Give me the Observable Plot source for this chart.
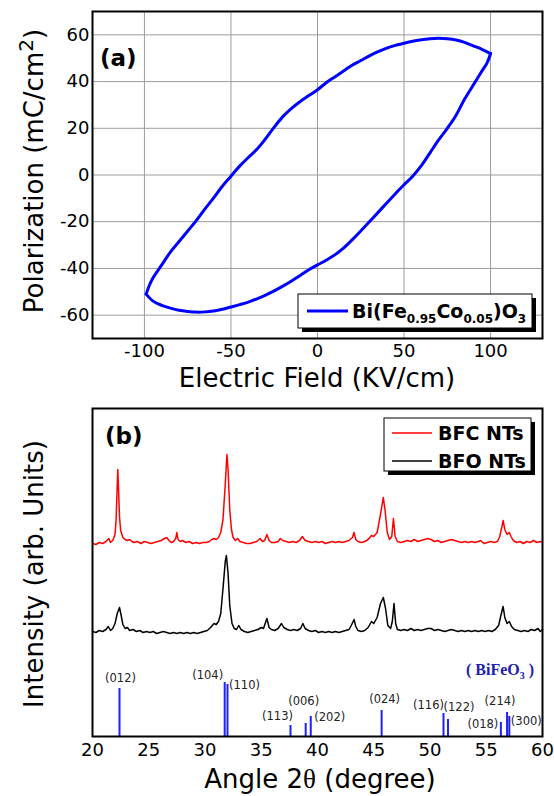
<!DOCTYPE html>
<html><head><meta charset="utf-8">
<script src="https://cdn.jsdelivr.net/npm/d3@7"></script>
<script src="https://cdn.jsdelivr.net/npm/@observablehq/plot@0.6"></script>
<style>
html,body{margin:0;padding:0;background:#fff;}
#chart{width:554px;}
#chart svg{display:block;}
</style></head>
<body><div id="chart"></div>
<script>
// ---------- (a) P-E hysteresis loop ----------
const fieldTicks = [-100, -50, 0, 50, 100];
const polTicks = [-60, -40, -20, 0, 20, 40, 60];
const loopName = "Bi(Fe0.95Co0.05)O3";
// upper branch (field increasing)
const upperE = [-99,-97,-95,-90,-85,-80,-75,-70,-65,-60,-55,-50,-45,-40,-35,-30,-25,-20,-15,-10,-5,0,5,10,15,20,25,30,35,40,45,50,55,60,65,70,75,80,85,90,95,100];
const upperP = [-51,-47,-44,-38.5,-33,-28.5,-24,-19.5,-14.5,-9.8,-4.8,-0.5,3.8,7.5,11,15.5,20.5,25,28.5,31.5,34,36.5,39.5,42,44.5,47,49,51,52.8,54.3,55.5,56.4,57.3,57.9,58.3,58.5,58.3,57.8,56.8,55.3,53.8,52];
// lower branch (field decreasing)
const lowerE = [100,98,95,90,85,80,75,70,65,60,55,50,45,40,35,30,25,20,15,10,5,0,-5,-10,-15,-20,-25,-30,-35,-40,-45,-50,-55,-60,-65,-70,-75,-80,-85,-90,-95,-99];
const lowerP = [52,48,44.5,38.5,32.5,25.5,20,15,9.5,4,-0.5,-4.2,-8,-12,-16,-20,-24,-27.8,-31.3,-34.2,-36.5,-38.5,-40.6,-43,-45.4,-47.6,-49.6,-51.4,-53,-54.4,-55.5,-56.5,-57.5,-58.2,-58.6,-58.7,-58.4,-57.9,-57,-55.8,-54,-51];

// ---------- (b) XRD patterns ----------
const angleTicks = [20, 25, 30, 35, 40, 45, 50, 55, 60];
const seriesNames = ["BFC NTs", "BFO NTs"];
const bfcOffset = 192;
const bfoOffset = 103;
const bfcAngle = [20.0,20.3,20.6,20.9,21.2,21.45,21.6,21.8,22.0,22.1,22.2,22.25,22.3,22.4,22.5,22.7,22.9,23.1,23.3,23.5,23.7,24.0,24.3,24.6,24.9,25.2,25.5,25.8,26.1,26.4,26.6,26.8,27.0,27.2,27.4,27.5,27.6,27.8,28.0,28.3,28.6,28.9,29.2,29.5,29.8,30.1,30.4,30.6,30.8,31.0,31.2,31.4,31.6,31.8,31.95,32.05,32.2,32.35,32.5,32.7,32.9,33.1,33.4,33.7,34.0,34.3,34.6,34.9,35.1,35.3,35.5,35.7,35.9,36.2,36.5,36.7,36.9,37.2,37.5,37.8,38.1,38.4,38.65,38.9,39.2,39.5,39.8,40.1,40.4,40.7,41.0,41.3,41.6,41.9,42.2,42.5,42.8,43.1,43.25,43.4,43.6,43.9,44.2,44.5,44.8,45.0,45.3,45.6,45.85,46.0,46.2,46.4,46.6,46.75,46.9,47.1,47.4,47.7,48.0,48.3,48.6,48.9,49.2,49.5,49.8,50.1,50.4,50.7,51.0,51.3,51.6,51.9,52.2,52.5,52.8,53.1,53.4,53.7,54.0,54.3,54.5,54.8,55.1,55.4,55.7,56.0,56.2,56.4,56.5,56.65,56.85,57.05,57.2,57.4,57.7,58.0,58.3,58.6,58.9,59.2,59.5,59.8,60.0];
const bfcIntensity = [1,0,2,1,3,6,2,4,10,25,60,75,60,28,14,7,5,4,5,3,2,3,1,3,2,1,2,3,4,6,7,4,2,3,6,12,5,3,4,2,3,1,2,1,2,2,3,5,6,5,7,12,25,60,90,75,35,15,7,4,6,3,2,1,1,2,3,6,3,4,10,4,2,2,3,6,4,3,2,3,2,4,8,4,3,2,3,2,3,1,2,3,2,3,2,3,4,7,12,5,3,2,3,5,9,8,12,30,47,35,12,5,8,26,8,3,2,3,4,3,5,3,4,5,6,5,3,4,2,3,4,5,4,3,2,3,2,3,2,3,4,1,2,3,2,3,8,18,24,15,10,12,8,4,2,3,1,3,2,4,2,3,2];
const bfoAngle = [20.0,20.3,20.6,20.9,21.2,21.4,21.6,21.8,22.0,22.2,22.4,22.55,22.7,22.9,23.1,23.3,23.6,23.9,24.2,24.5,24.8,25.1,25.4,25.7,26.0,26.3,26.6,26.9,27.2,27.5,27.8,28.1,28.4,28.7,29.0,29.3,29.6,29.9,30.2,30.5,30.8,31.0,31.2,31.4,31.6,31.8,31.9,32.05,32.2,32.4,32.6,32.8,33.0,33.2,33.5,33.8,34.1,34.4,34.7,35.0,35.2,35.5,35.7,35.9,36.2,36.5,36.8,37.0,37.3,37.6,37.9,38.2,38.5,38.7,38.9,39.2,39.5,39.8,40.1,40.4,40.7,41.0,41.3,41.6,41.9,42.2,42.5,42.8,43.0,43.25,43.4,43.6,43.9,44.2,44.5,44.8,45.0,45.3,45.6,45.85,46.05,46.25,46.5,46.65,46.8,46.95,47.1,47.4,47.7,48.0,48.3,48.6,48.9,49.2,49.5,49.8,50.1,50.4,50.7,51.0,51.3,51.6,51.9,52.2,52.5,52.8,53.1,53.4,53.7,54.0,54.3,54.6,54.9,55.2,55.5,55.8,56.1,56.3,56.5,56.65,56.85,57.05,57.25,57.5,57.8,58.1,58.4,58.7,59.0,59.3,59.6,59.8,60.0];
const bfoIntensity = [2,1,3,2,4,7,3,5,10,20,26,18,9,5,6,3,4,2,3,1,2,1,2,0,1,2,1,0,1,0,1,0,1,0,1,0,1,2,3,6,10,9,12,20,45,72,78,60,28,10,5,4,8,4,2,1,2,3,4,6,5,15,6,4,3,5,10,6,4,3,4,3,5,10,5,3,2,3,1,2,1,2,1,2,1,2,3,4,8,14,7,3,2,3,6,12,10,16,30,36,25,8,5,12,30,10,4,3,4,3,5,3,4,3,4,5,5,3,4,3,2,3,4,3,2,3,2,3,2,3,2,3,2,3,2,4,8,18,27,16,10,12,7,4,3,2,3,2,4,3,5,2,4];
// BiFeO3 reference pattern
const refHkl = ["(012)","(104)","(110)","(113)","(006)","(202)","(024)","(116)","(122)","(018)","(214)","(300)"];
const refAngle = [22.4,31.75,32.0,37.6,38.95,39.4,45.7,51.2,51.6,56.3,56.85,57.05];
const refIntensity = [48,54,52,11,13,20,26,23,17,14,24,20];

// ---------- helpers ----------
const FONT = "DejaVu Sans, Liberation Sans, Arial, sans-serif";
const hyphenFormat = d => String(d);
function richText(parent, x, y, parts, attrs) {
  const t = parent.append("text").attr("x", x).attr("y", y);
  for (const [k, v] of Object.entries(attrs || {})) t.attr(k, v);
  let shift = 0;
  for (const p of parts) {
    const s = t.append("tspan").text(p.text);
    const want = p.shift || 0;
    if (want !== shift) { s.attr("dy", want - shift); shift = want; }
    if (p.size) s.attr("font-size", p.size);
    if (p.family) s.attr("font-family", p.family);
  }
  return t;
}

const chart = document.getElementById("chart");

// ---------- panel (a) ----------
const loop = [
  ...upperE.map((e, i) => ({E: e, P: upperP[i], branch: "up"})),
  ...lowerE.map((e, i) => ({E: e, P: lowerP[i], branch: "down"}))
];
const plotA = Plot.plot({
  width: 554, height: 400,
  marginLeft: 92, marginRight: 12, marginTop: 11, marginBottom: 62,
  style: {fontFamily: FONT, color: "black", background: "white", overflow: "visible"},
  x: {domain: [-130, 130]},
  y: {domain: [-70, 70]},
  marks: [
    Plot.gridX(fieldTicks, {stroke: "#9c9c9c", strokeOpacity: 1, strokeWidth: 1}),
    Plot.gridY(polTicks, {stroke: "#9c9c9c", strokeOpacity: 1, strokeWidth: 1}),
    Plot.line(loop, {x: "E", y: "P", z: "branch", stroke: "#0000ff", strokeWidth: 3,
      curve: "catmull-rom", strokeLinejoin: "round", strokeLinecap: "round"}),
    Plot.frame({stroke: "black", strokeWidth: 2}),
    Plot.axisX(fieldTicks, {tickSize: 0, tickPadding: 6, fontSize: 18, label: null, tickFormat: hyphenFormat}),
    Plot.axisY(polTicks, {tickSize: 0, tickPadding: 3, fontSize: 18, label: null, tickFormat: hyphenFormat})
  ]
});
chart.appendChild(plotA);
{
  const s = d3.select(plotA);
  s.append("text").attr("x", 317).attr("y", 387).attr("text-anchor", "middle")
    .attr("font-size", 26).attr("font-family", FONT).attr("fill", "black").text("Electric Field (KV/cm)");
  richText(s, 0, 0, [
    {text: "Polarization (mC/cm"}, {text: "2", size: 20, shift: -10}, {text: ")", shift: 0}
  ], {transform: "translate(43,171) rotate(-90)", "text-anchor": "middle", "font-size": 26, "font-family": FONT, fill: "black"});
  s.append("text").attr("x", 100).attr("y", 66).attr("text-anchor", "start").attr("font-size", 23).attr("font-weight", "bold")
    .attr("font-family", FONT).attr("fill", "black").text("(a)");
  // legend
  const g = s.append("g").attr("text-anchor", "start");
  g.append("rect").attr("x", 302).attr("y", 298).attr("width", 234).attr("height", 34).attr("fill", "black");
  g.append("rect").attr("x", 298).attr("y", 294).attr("width", 234).attr("height", 34).attr("fill", "white").attr("stroke", "black").attr("stroke-width", 1);
  g.append("line").attr("x1", 307).attr("x2", 348).attr("y1", 311).attr("y2", 311).attr("stroke", "#0000ff").attr("stroke-width", 3);
  richText(g, 352, 318, [
    {text: "Bi(Fe"}, {text: "0.95", size: 12, shift: 5}, {text: "Co", shift: 0},
    {text: "0.05", size: 12, shift: 5}, {text: ")O", shift: 0}, {text: "3", size: 12, shift: 5}
  ], {"text-anchor": "start", "font-size": 19, "font-weight": "bold", "font-family": FONT, fill: "black"}).attr("aria-label", loopName);
}

// ---------- panel (b) ----------
const bfc = bfcAngle.map((a, i) => ({angle: a, I: bfcIntensity[i] + bfcOffset}));
const bfo = bfoAngle.map((a, i) => ({angle: a, I: bfoIntensity[i] + bfoOffset}));
const refs = refHkl.map((h, i) => ({hkl: h, angle: refAngle[i], I: refIntensity[i]}));
// label placement offsets (px) relative to the top of each reference line
const hklDx = [1, -17, 17, -13, -2, 19, 3, -15, 11, -18, -7, 17];
const hklDy = [-10, -7, 1, -9, -22, 1, -11, -8, -12, 2, -11, 5];

const plotB = Plot.plot({
  width: 554, height: 396,
  marginLeft: 92, marginRight: 12, marginTop: 8, marginBottom: 60,
  style: {fontFamily: FONT, color: "black", background: "white", overflow: "visible"},
  x: {domain: [20, 60]},
  y: {domain: [0, 328], axis: null},
  marks: [
    Plot.line(bfo, {x: "angle", y: "I", stroke: "black", strokeWidth: 1.5}),
    Plot.line(bfc, {x: "angle", y: "I", stroke: "#ff0000", strokeWidth: 1.5}),
    Plot.ruleX(refs, {x: "angle", y1: 0, y2: "I", stroke: "#1f1fff", strokeWidth: 2}),
    refs.map((r, i) => Plot.text([r], {x: "angle", y: "I", text: "hkl", dx: hklDx[i], dy: hklDy[i],
      fontSize: 11.5, fill: "#222", lineAnchor: "middle", textAnchor: "middle"})),
    Plot.frame({stroke: "black", strokeWidth: 2}),
    Plot.axisX(angleTicks, {tickSize: 0, tickPadding: 7, fontSize: 18, label: null, tickFormat: hyphenFormat})
  ]
});
chart.appendChild(plotB);
{
  const s = d3.select(plotB);
  richText(s, 320, 388, [
    {text: "Angle 2"}, {text: "θ", family: "Liberation Serif, DejaVu Serif, serif", size: 27}, {text: " (degree)"}
  ], {"text-anchor": "middle", "font-size": 26, "font-family": FONT, fill: "black"});
  s.append("text").attr("transform", "translate(43,174) rotate(-90)").attr("text-anchor", "middle")
    .attr("font-size", 26).attr("font-family", FONT).attr("fill", "black").text("Intensity (arb. Units)");
  s.append("text").attr("x", 105).attr("y", 44).attr("text-anchor", "start").attr("font-size", 23).attr("font-weight", "bold")
    .attr("font-family", FONT).attr("fill", "black").text("(b)");
  richText(s, 500, 275, [
    {text: "( BiFeO"}, {text: "3", size: 10, shift: 4}, {text: " )", shift: 0}
  ], {"text-anchor": "middle", "font-size": 16, "font-weight": "bold", "font-family": "Liberation Serif, Times New Roman, serif", fill: "#2020b0"});
  // legend
  const g = s.append("g").attr("text-anchor", "start");
  g.append("rect").attr("x", 388).attr("y", 22).attr("width", 147).attr("height", 53).attr("fill", "black");
  g.append("rect").attr("x", 384).attr("y", 18).attr("width", 147).attr("height", 53).attr("fill", "white").attr("stroke", "black").attr("stroke-width", 1);
  const rows = [{name: seriesNames[0], color: "#ff0000", y: 33}, {name: seriesNames[1], color: "black", y: 61}];
  for (const r of rows) {
    g.append("line").attr("x1", 392).attr("x2", 432).attr("y1", r.y).attr("y2", r.y).attr("stroke", r.color).attr("stroke-width", 1.5);
    g.append("text").attr("x", 438).attr("y", r.y + 7).attr("text-anchor", "start").attr("font-size", 19).attr("font-weight", "bold")
      .attr("font-family", FONT).attr("fill", "black").text(r.name);
  }
}
</script>
</body></html>
